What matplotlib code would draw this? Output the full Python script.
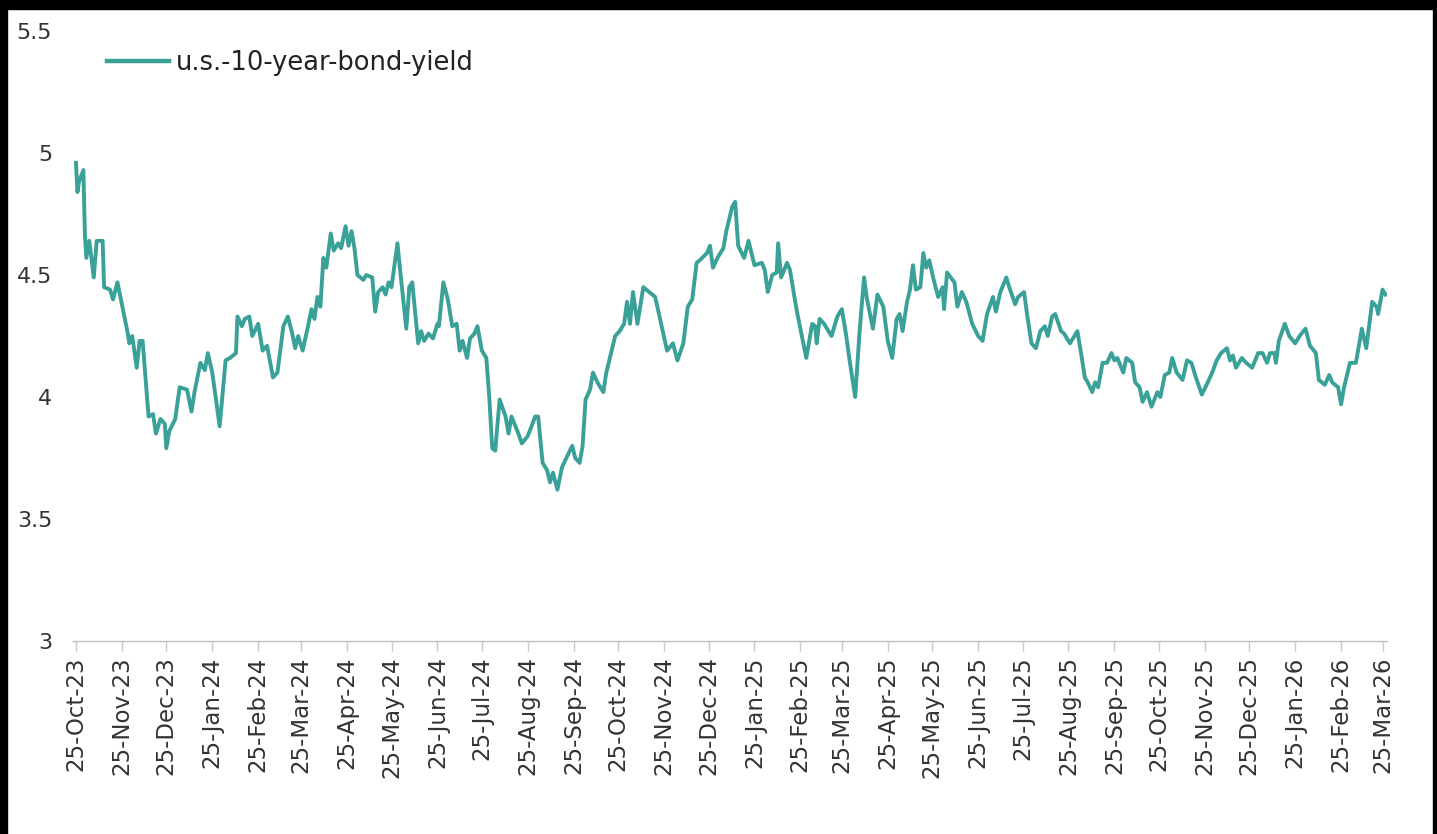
import matplotlib
matplotlib.use("Agg")
import matplotlib.pyplot as plt
import matplotlib.dates as mdates
from matplotlib.patches import Rectangle
import pandas as pd

series_name = "u.s.-10-year-bond-yield"
start_date = "2023-10-25"

# day offsets from start_date and yields
day_offsets = [
    0, 1, 2, 5, 6, 7, 9, 12, 14, 18, 19, 23, 25, 28, 33, 35, 36, 38, 41, 43,
    45, 49, 52, 54, 57, 60, 61, 63, 67, 70, 75, 78, 80, 84, 87, 89, 92, 97, 101, 104,
    108, 109, 112, 114, 117, 119, 123, 126, 129, 133, 136, 140, 143, 146, 148, 150, 153, 157, 159, 161,
    163, 165, 167, 169, 172, 174, 177, 179, 182, 184, 186, 188, 190, 194, 196, 200, 202, 204, 207, 209,
    211, 213, 217, 219, 223, 225, 227, 231, 233, 235, 238, 241, 244, 245, 248, 251, 254, 257, 259, 261,
    264, 266, 269, 271, 274, 277, 279, 281, 283, 286, 290, 292, 294, 298, 301, 305, 310, 312, 315, 318,
    320, 322, 325, 328, 331, 335, 337, 340, 342, 344, 347, 349, 352, 356, 358, 362, 364, 367, 370, 372,
    374, 376, 379, 383, 387, 391, 395, 399, 403, 406, 410, 413, 416, 419, 421, 426, 428, 430, 433, 437,
    439, 443, 445, 447, 451, 454, 458, 463, 465, 467, 470, 473, 474, 476, 480, 482, 485, 487, 490, 493,
    497, 499, 500, 502, 505, 510, 514, 517, 520, 522, 526, 529, 532, 534, 538, 541, 545, 548, 551, 554,
    556, 558, 561, 563, 565, 567, 570, 572, 574, 576, 579, 582, 585, 586, 588, 593, 595, 598, 601, 605,
    609, 612, 615, 619, 621, 624, 628, 630, 634, 636, 640, 642, 645, 648, 651, 654, 656, 659, 661, 665,
    667, 671, 674, 676, 679, 681, 683, 686, 688, 690, 693, 696, 699, 701, 703, 707, 709, 713, 715, 718,
    720, 723, 726, 730, 732, 735, 738, 740, 743, 747, 750, 753, 756, 760, 764, 767, 770, 773, 777, 779,
    781, 783, 787, 790, 794, 798, 801, 804, 806, 809, 810, 812, 816, 819, 823, 826, 830, 833, 837, 839,
    843, 846, 848, 852, 854, 856, 860, 864, 868, 871, 875, 878, 879, 882, 884,
]
yields = [
    4.96, 4.84, 4.88, 4.93, 4.67, 4.57, 4.64, 4.49, 4.64, 4.64, 4.45, 4.44, 4.40, 4.47, 4.32, 4.26, 4.22, 4.25, 4.12, 4.23,
    4.23, 3.92, 3.93, 3.85, 3.91, 3.89, 3.79, 3.86, 3.91, 4.04, 4.03, 3.94, 4.02, 4.14, 4.11, 4.18, 4.10, 3.88, 4.15, 4.16,
    4.18, 4.33, 4.29, 4.32, 4.33, 4.25, 4.30, 4.19, 4.21, 4.08, 4.10, 4.29, 4.33, 4.26, 4.20, 4.25, 4.19, 4.30, 4.36, 4.32,
    4.41, 4.37, 4.57, 4.53, 4.67, 4.60, 4.63, 4.61, 4.70, 4.62, 4.68, 4.61, 4.50, 4.48, 4.50, 4.49, 4.35, 4.43, 4.45, 4.42,
    4.47, 4.45, 4.63, 4.51, 4.28, 4.45, 4.47, 4.22, 4.27, 4.23, 4.26, 4.24, 4.30, 4.29, 4.47, 4.40, 4.29, 4.30, 4.19, 4.23,
    4.16, 4.24, 4.26, 4.29, 4.19, 4.16, 4.00, 3.79, 3.78, 3.99, 3.92, 3.85, 3.92, 3.86, 3.81, 3.84, 3.92, 3.92, 3.73, 3.70,
    3.65, 3.69, 3.62, 3.71, 3.75, 3.80, 3.75, 3.73, 3.80, 3.99, 4.03, 4.10, 4.06, 4.02, 4.10, 4.20, 4.25, 4.27, 4.30, 4.39,
    4.30, 4.43, 4.30, 4.45, 4.43, 4.41, 4.30, 4.19, 4.22, 4.15, 4.22, 4.37, 4.40, 4.55, 4.56, 4.59, 4.62, 4.53, 4.57, 4.61,
    4.68, 4.78, 4.80, 4.62, 4.57, 4.64, 4.54, 4.55, 4.52, 4.43, 4.50, 4.51, 4.63, 4.49, 4.55, 4.52, 4.41, 4.34, 4.25, 4.16,
    4.30, 4.29, 4.22, 4.32, 4.30, 4.25, 4.33, 4.36, 4.25, 4.16, 4.00, 4.27, 4.49, 4.40, 4.28, 4.42, 4.37, 4.23, 4.16, 4.32,
    4.34, 4.27, 4.39, 4.44, 4.54, 4.44, 4.45, 4.59, 4.53, 4.56, 4.48, 4.41, 4.45, 4.36, 4.51, 4.47, 4.37, 4.43, 4.39, 4.30,
    4.25, 4.23, 4.34, 4.41, 4.35, 4.43, 4.49, 4.45, 4.38, 4.41, 4.43, 4.34, 4.22, 4.20, 4.27, 4.29, 4.25, 4.33, 4.34, 4.27,
    4.26, 4.22, 4.25, 4.27, 4.16, 4.08, 4.06, 4.02, 4.06, 4.04, 4.14, 4.14, 4.18, 4.15, 4.16, 4.10, 4.16, 4.14, 4.06, 4.04,
    3.98, 4.02, 3.96, 4.02, 4.00, 4.09, 4.10, 4.16, 4.10, 4.07, 4.15, 4.14, 4.08, 4.01, 4.06, 4.10, 4.15, 4.18, 4.20, 4.15,
    4.17, 4.12, 4.16, 4.14, 4.12, 4.18, 4.18, 4.14, 4.18, 4.18, 4.14, 4.23, 4.30, 4.25, 4.22, 4.25, 4.28, 4.21, 4.18, 4.07,
    4.05, 4.09, 4.06, 4.04, 3.97, 4.04, 4.14, 4.14, 4.28, 4.20, 4.39, 4.37, 4.34, 4.44, 4.42,
]
y_ticks = [3, 3.5, 4, 4.5, 5, 5.5]
y_tick_labels = ["3", "3.5", "4", "4.5", "5", "5.5"]
tick_start, tick_end = "2023-10-25", "2026-03-25"

plt.rcParams["font.family"] = ["DejaVu Sans"]

dates = pd.Timestamp(start_date) + pd.to_timedelta(day_offsets, unit="D")

W, H = 1437, 834
fig = plt.figure(figsize=(W / 100, H / 100), dpi=100, facecolor="white")
ax = fig.add_axes([73 / W, 1 - 641 / H, (1387 - 73) / W, (641 - 31) / H])
ax.set_facecolor("white")

line_color = "#3aa199"
ax.plot(dates, yields, color=line_color, lw=2.8, label=series_name)

ax.set_ylim(3, 5.5)
ax.set_yticks(y_ticks)
ax.set_yticklabels(y_tick_labels)
ax.set_xlim(pd.Timestamp(start_date) - pd.Timedelta(days=2), pd.Timestamp(start_date) + pd.Timedelta(days=885))

xt = pd.date_range(tick_start, tick_end, freq=pd.DateOffset(months=1))
ax.set_xticks(xt)
ax.xaxis.set_major_formatter(mdates.DateFormatter("%d-%b-%y"))
ax.xaxis.set_minor_locator(plt.NullLocator())

for s in ["top", "right", "left"]:
    ax.spines[s].set_visible(False)
ax.spines["bottom"].set_color("#c0c0c0")
ax.spines["bottom"].set_linewidth(1.0)

ax.tick_params(axis="y", length=0, pad=15, labelsize=16, labelcolor="#333333")
ax.tick_params(axis="x", direction="out", length=7, width=1, color="#c8c8c8", pad=4,
               labelsize=16.5, labelcolor="#333333", labelrotation=90)
for lab in ax.get_xticklabels():
    lab.set_va("top")
    lab.set_ha("center")

leg = ax.legend(loc="center left", bbox_to_anchor=(107 / W, 1 - 63 / H), bbox_transform=fig.transFigure,
                frameon=False, fontsize=18.5, handlelength=2.4, handletextpad=0.3,
                borderpad=0, borderaxespad=0)
for t in leg.get_texts():
    t.set_color("#222222")
for h in leg.get_lines():
    h.set_linewidth(3.2)

# dark frame strips of the screenshot
fig.add_artist(Rectangle((0, 1 - 9 / H), 1, 9 / H, transform=fig.transFigure, color="black", zorder=10))
fig.add_artist(Rectangle((0, 0), 7 / W, 1, transform=fig.transFigure, color="black", zorder=10))
fig.add_artist(Rectangle((1 - 4 / W, 0), 4 / W, 1, transform=fig.transFigure, color="black", zorder=10))

fig.savefig("out.png", dpi=100, facecolor="white")
